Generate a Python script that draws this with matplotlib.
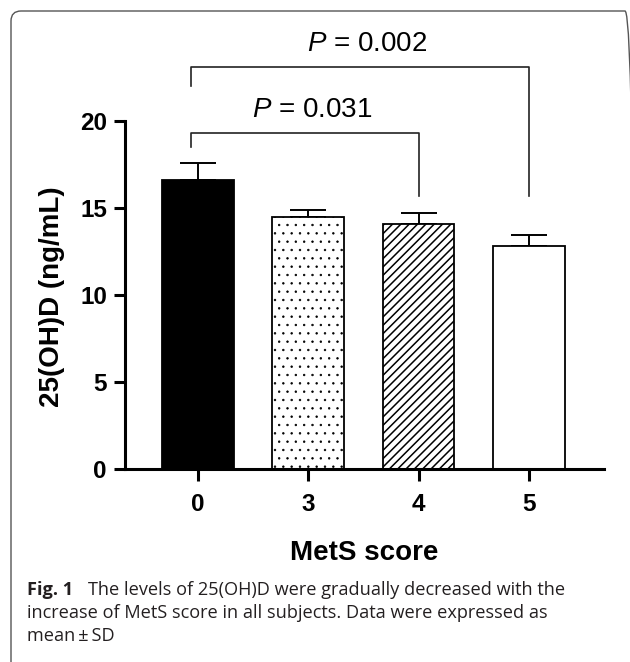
import numpy as np
import matplotlib
matplotlib.use("Agg")
import matplotlib.pyplot as plt
from matplotlib.patches import FancyBboxPatch
from matplotlib.transforms import IdentityTransform

plt.rcParams['font.family'] = ['Liberation Sans', 'DejaVu Sans']
plt.rcParams['mathtext.fontset'] = 'custom'
plt.rcParams['mathtext.it'] = 'Liberation Sans:italic'
plt.rcParams['mathtext.rm'] = 'Liberation Sans'
plt.rcParams['hatch.linewidth'] = 1.1

# data
scores = ['0', '3', '4', '5']
means = [16.6, 14.5, 14.1, 12.8]
sds = [1.0, 0.4, 0.6, 0.65]
colors = ['black', 'white', 'white', 'white']
hatches = ['', '..', '////', '']

# comparisons: (group a, group b, bracket height, left leg end, right leg end, label)
comparisons = [
    (0, 2, 19.3, 18.5, 15.7, '$P$ = 0.031'),
    (0, 3, 23.1, 22.0, 15.7, '$P$ = 0.002'),
]

fig = plt.figure(figsize=(6.3, 6.62), dpi=100)
ax = fig.add_axes([0.1984, 0.2915, 0.7603, 0.5257])

x = np.arange(len(scores))
bars = ax.bar(x, means, width=0.65, color=colors, edgecolor='black',
              linewidth=1.3, zorder=2)
for b, h in zip(bars, hatches):
    b.set_hatch(h)
    if h == '..':
        try:
            b.set_hatch_linewidth(0.5)
        except AttributeError:
            pass

ax.errorbar(x, means, yerr=[np.zeros(len(sds)), sds], fmt='none',
            ecolor='black', elinewidth=1.4, capsize=13, capthick=1.4, zorder=1)

# significance brackets
for a, b, top, lend, rend, label in comparisons:
    xa = x[a] - 0.06
    xb = x[b]
    ax.plot([xa, xa, xb, xb], [lend, top, top, rend], color='#222222',
            lw=1.2, clip_on=False)
    ax.text((xa + xb) / 2 + 0.065, top + 1.35, label, ha='center', va='center',
            fontsize=20, clip_on=False)

ax.set_xlim(-0.66, 3.68)
ax.set_ylim(0, 20)
ax.set_yticks([0, 5, 10, 15, 20])
ax.set_xticks(x)
ax.set_xticklabels(scores)

for s in ['top', 'right']:
    ax.spines[s].set_visible(False)
for s in ['left', 'bottom']:
    ax.spines[s].set_linewidth(2.2)

ax.tick_params(axis='y', length=8, width=2.2, pad=5, labelsize=17.5)
ax.tick_params(axis='x', length=8.5, width=2.2, pad=9, labelsize=17.5)
for lab in ax.get_xticklabels() + ax.get_yticklabels():
    lab.set_fontweight('bold')

ax.set_ylabel('25(OH)D (ng/mL)', fontsize=20, fontweight='bold')
ax.yaxis.set_label_coords(-0.125, 0.496)
ax.set_xlabel('MetS score', fontsize=20, fontweight='bold', va='center')
ax.xaxis.set_label_coords(0.499, -0.241)

# caption
cap_font = ['Open Sans', 'DejaVu Sans']
cap_size = 13.1
fig.text(27 / 630, 1 - 595 / 662, 'Fig. 1', fontsize=cap_size, fontweight='bold',
         family=cap_font, color='#231f20', va='baseline')
fig.text(88 / 630, 1 - 595 / 662,
         'The levels of 25(OH)D were gradually decreased with the',
         fontsize=cap_size, family=cap_font, color='#231f20', va='baseline')
fig.text(27 / 630, 1 - 618 / 662,
         'increase of MetS score in all subjects. Data were expressed as',
         fontsize=cap_size, family=cap_font, color='#231f20', va='baseline')
fig.text(27 / 630, 1 - 641 / 662, 'mean\u2009\u00b1\u2009SD',
         fontsize=cap_size, family=cap_font, color='#231f20', va='baseline')

# rounded frame around the figure
frame = FancyBboxPatch((11, -20), 624, 671,
                       boxstyle='round,pad=0,rounding_size=10',
                       transform=IdentityTransform(), fill=False,
                       edgecolor='#555555', lw=1.0)
fig.patches.append(frame)

fig.savefig('out.png', dpi=100)
